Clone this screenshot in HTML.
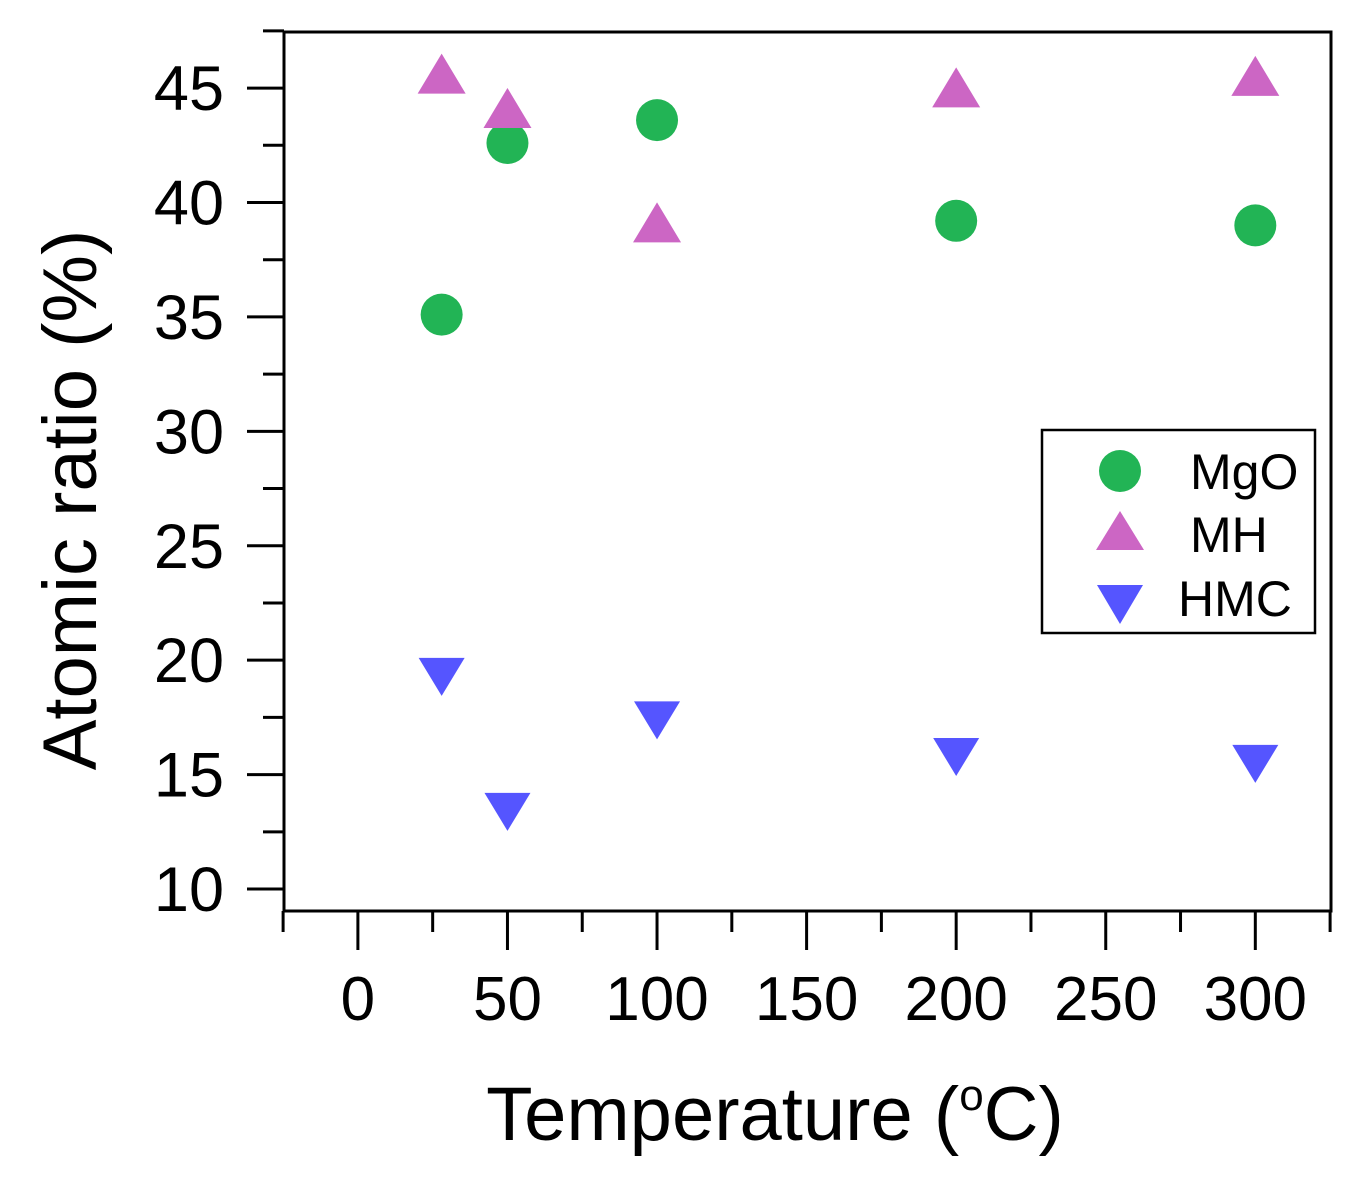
<!DOCTYPE html>
<html><head><meta charset="utf-8"><style>
html,body{margin:0;padding:0;background:#fff;}
svg{display:block;font-family:"Liberation Sans",Arial,sans-serif;}
</style></head><body>
<svg id="chart" width="1358" height="1179" viewBox="0 0 1358 1179">
<rect x="284" y="32" width="1047" height="879" fill="none" stroke="#000" stroke-width="3"/>
<g id="yaxis"></g>
<g id="xaxis"></g>
<g id="marks"></g>
<text x="96" y="500" font-size="76" text-anchor="middle" transform="rotate(-90 96 500)">Atomic ratio (%)</text>
<text x="775" y="1140" font-size="76" text-anchor="middle">Temperature (<tspan font-size="44" dy="-30">o</tspan><tspan dy="30">C)</tspan></text>
<g>
<rect x="1042" y="430" width="273" height="203" fill="#fff" stroke="#000" stroke-width="2.5"/>
<circle cx="1120" cy="471" r="21" fill="#22b455"/>
<text x="1190" y="489" font-size="50">MgO</text>
<polygon points="1120,511 1144,550 1096,550" fill="#cc66c4"/>
<text x="1190" y="552" font-size="50">MH</text>
<polygon points="1097,585 1143,585 1120,624" fill="#5555ff"/>
<text x="1178" y="616" font-size="50">HMC</text>
</g>
</svg>
<script>
const temps = [28, 50, 100, 200, 300];
const mgo = [35.1, 42.6, 43.6, 39.2, 39.0];
const mh = [45.5, 44.0, 39.0, 44.9, 45.4];
const hmc = [19.4, 13.5, 17.5, 15.9, 15.6];
const yTicks = [10, 15, 20, 25, 30, 35, 40, 45];
const xTicks = [0, 50, 100, 150, 200, 250, 300];
const NS = "http://www.w3.org/2000/svg";
const X0 = 284, X1 = 1331, Y0 = 911, Y1 = 32;
const xmin = -24.7, xmax = 325.3, ymin = 9.04, ymax = 47.45;
function sx(v){return X0 + (v - xmin) / (xmax - xmin) * (X1 - X0);}
function sy(v){return Y0 - (v - ymin) / (ymax - ymin) * (Y0 - Y1);}
function mk(tag, attrs, parent){const e=document.createElementNS(NS,tag);for(const k in attrs)e.setAttribute(k,attrs[k]);parent.appendChild(e);return e;}
const ya = document.getElementById('yaxis'), xa = document.getElementById('xaxis'), mg = document.getElementById('marks');
for (let v = 10; v <= 47.5; v += 2.5) {
  const major = v % 5 === 0;
  const l = mk('line', {x1: major ? 247 : 263, x2: 284, y1: sy(v), y2: sy(v), stroke: '#000', 'stroke-width': 3}, ya);
  
  
}
yTicks.forEach(v => {
  const t = mk('text', {x: 224, y: sy(v) + 22, 'font-size': 63, 'text-anchor': 'end'}, ya);
  t.textContent = v;
  
  
});
for (let v = -25; v <= 325; v += 25) {
  const major = v % 50 === 0;
  const l = mk('line', {x1: sx(v), x2: sx(v), y1: 911, y2: major ? 950 : 932, stroke: '#000', 'stroke-width': 3}, xa);
  
  
}
xTicks.forEach(v => {
  const t = mk('text', {x: sx(v), y: 1020, 'font-size': 62, 'text-anchor': 'middle'}, xa);
  t.textContent = v;
  
  
});
temps.forEach((t, i) => {
  const x = sx(t);
  let y = sy(mgo[i]);
  const c = mk('circle', {cx: x, cy: y, r: 21, fill: '#22b455'}, mg);
  
  
  y = sy(mh[i]);
  const p = mk('polygon', {points: `${x},${y-23} ${x+24},${y+17} ${x-24},${y+17}`, fill: '#cc66c4'}, mg);
  
  
  y = sy(hmc[i]);
  const q = mk('polygon', {points: `${x-23},${y-16} ${x+23},${y-16} ${x},${y+22}`, fill: '#5555ff'}, mg);
  
  
});
</script>
</body></html>
